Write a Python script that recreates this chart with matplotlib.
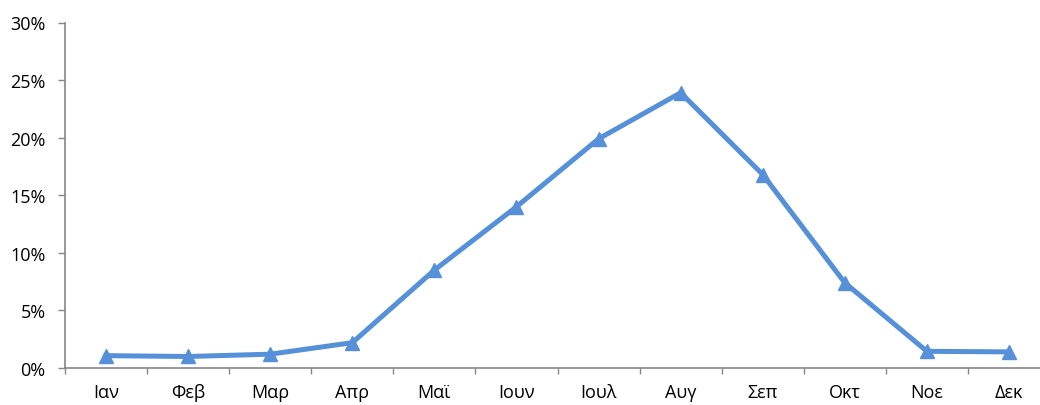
import matplotlib
matplotlib.use("Agg")
import matplotlib.pyplot as plt
from matplotlib.ticker import FuncFormatter, FixedLocator

months = ["Ιαν", "Φεβ", "Μαρ", "Απρ", "Μαϊ", "Ιουν", "Ιουλ", "Αυγ", "Σεπ", "Οκτ", "Νοε", "Δεκ"]
values = [1.07, 1.0, 1.2, 2.2, 8.5, 14.0, 19.9, 23.9, 16.8, 7.4, 1.45, 1.4]
yticks = [0, 5, 10, 15, 20, 25, 30]

plt.rcParams['font.family'] = ['Open Sans', 'DejaVu Sans']

fig = plt.figure(figsize=(10.4, 4.06), dpi=100)
ax = fig.add_axes([65/1040, 37/406, 985/1040, 345.5/406])

x = list(range(len(months)))
ax.plot(x, values, color='#5590D9', linewidth=3.6, marker='^', markersize=10,
        markeredgecolor='#5590D9', markerfacecolor='#5590D9', solid_joinstyle='miter', clip_on=False)

ax.set_xlim(-0.5, len(months) - 0.5)
ax.set_ylim(0, 30)
ax.set_yticks(yticks)
ax.yaxis.set_major_formatter(FuncFormatter(lambda v, p: f"{int(v)}%"))
ax.set_xticks(x)
ax.set_xticklabels(months)
ax.xaxis.set_minor_locator(FixedLocator([i - 0.5 for i in range(len(months) + 1)]))
ax.tick_params(axis='x', which='major', length=0, pad=11, labelsize=13, labelcolor='black')
ax.tick_params(axis='x', which='minor', length=4.5, width=1, color='#868686', direction='out')
ax.tick_params(axis='y', length=5, width=1, color='#868686', direction='out', pad=9, labelsize=13, labelcolor='black')

for s in ['top', 'right']:
    ax.spines[s].set_visible(False)
for s in ['left', 'bottom']:
    ax.spines[s].set_color('#868686')
    ax.spines[s].set_linewidth(1.2)

fig.savefig("out.png", dpi=100)
